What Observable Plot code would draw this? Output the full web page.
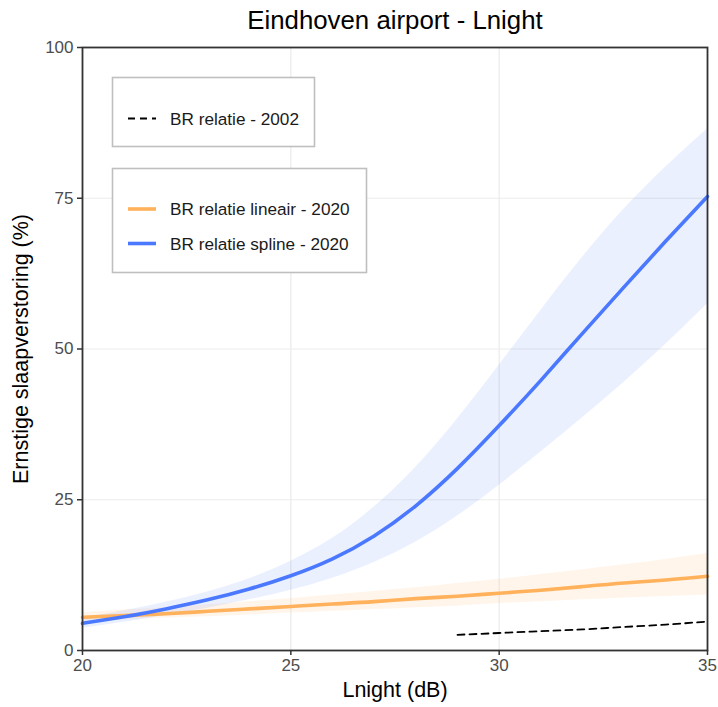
<!DOCTYPE html>
<html><head><meta charset="utf-8">
<script src="https://cdn.jsdelivr.net/npm/d3@7"></script>
<script src="https://cdn.jsdelivr.net/npm/@observablehq/plot@0.6"></script>
<style>
body{margin:0;background:#fff}
#chart{position:relative;width:718px;height:707px}
</style>
</head><body><div id="chart"></div>
<script>
// ---- data ----
const lnight      = [20, 21, 22, 23, 24, 25, 26, 27, 28, 29, 30, 31, 32, 33, 34, 35];
const splineFit   = [4.5, 5.6, 6.9, 8.4, 10.2, 12.4, 15.2, 19.0, 24.0, 30.2, 37.3, 44.8, 52.6, 60.3, 67.9, 75.3];
const splineLow   = [3.7, 4.7, 5.8, 7.0, 8.4, 10.0, 12.0, 14.6, 18.0, 22.3, 27.4, 32.9, 38.6, 44.5, 50.8, 57.5];
const splineHigh  = [5.4, 6.6, 8.0, 9.7, 11.9, 14.8, 18.6, 23.8, 30.4, 38.4, 47.3, 56.4, 65.2, 73.2, 80.2, 86.5];
const linFit      = [5.5, 5.8, 6.1, 6.5, 6.9, 7.3, 7.7, 8.1, 8.6, 9.0, 9.5, 10.0, 10.6, 11.2, 11.7, 12.3];
const linLow      = [4.8, 5.1, 5.4, 5.6, 5.9, 6.2, 6.5, 6.8, 7.1, 7.4, 7.8, 8.1, 8.4, 8.7, 8.95, 9.2];
const linHigh     = [6.3, 6.7, 7.1, 7.6, 8.1, 8.6, 9.2, 9.8, 10.4, 11.1, 11.8, 12.6, 13.4, 14.2, 15.1, 16.1];
const lnight2002  = [29, 30, 31, 32, 33, 34, 35];
const fit2002     = [2.6, 2.9, 3.2, 3.5, 3.9, 4.3, 4.8];
const xTicks = [20, 25, 30, 35];
const yTicks = [0, 25, 50, 75, 100];
const titleText = "Eindhoven airport - Lnight";
const xLabel = "Lnight (dB)";
const yLabel = "Ernstige slaapverstoring (%)";
const legend1 = ["BR relatie - 2002"];
const legend2 = ["BR relatie lineair - 2020", "BR relatie spline - 2020"];
const colOrange = "#ffb15c", colBlue = "#4a78ff";
const FONT = "Liberation Sans, Arial, Helvetica, sans-serif";

const spline = lnight.map((x, i) => ({x, y: splineFit[i], lo: splineLow[i], hi: splineHigh[i]}));
const lin = lnight.map((x, i) => ({x, y: linFit[i], lo: linLow[i], hi: linHigh[i]}));
const old = lnight2002.map((x, i) => ({x, y: fit2002[i]}));

const plot = Plot.plot({
  width: 718, height: 707,
  marginLeft: 82, marginRight: 11, marginTop: 47, marginBottom: 57,
  x: {domain: [20, 35], ticks: xTicks},
  y: {domain: [0, 100], ticks: yTicks},
  style: {fontFamily: FONT, background: "#fff"},
  marks: [
    Plot.gridX(xTicks, {stroke: "#ebebeb", strokeOpacity: 1, strokeWidth: 1.2}),
    Plot.gridY(yTicks, {stroke: "#ebebeb", strokeOpacity: 1, strokeWidth: 1.2}),
    Plot.areaY(lin, {x: "x", y1: "lo", y2: "hi", fill: colOrange, fillOpacity: 0.13, curve: "natural"}),
    Plot.areaY(spline, {x: "x", y1: "lo", y2: "hi", fill: colBlue, fillOpacity: 0.11, curve: "natural"}),
    Plot.line(old, {x: "x", y: "y", stroke: "#000", strokeWidth: 1.8, strokeDasharray: "7,5", curve: "natural"}),
    Plot.line(lin, {x: "x", y: "y", stroke: colOrange, strokeWidth: 3.6, curve: "natural"}),
    Plot.line(spline, {x: "x", y: "y", stroke: colBlue, strokeWidth: 3.6, curve: "natural"}),
    Plot.frame({stroke: "#333", strokeWidth: 1.8}),
    Plot.axisX(xTicks, {tickSize: 5, stroke: "#333", strokeWidth: 1.5, fill: "#4d4d4d", fontSize: 17, tickPadding: 3, label: null}),
    Plot.axisY(yTicks, {tickSize: 5, stroke: "#333", strokeWidth: 1.5, fill: "#4d4d4d", fontSize: 17, tickPadding: 4, label: null}),
    Plot.text([titleText], {frameAnchor: "top", lineAnchor: "middle", dy: -27, fontSize: 25.8, fill: "#000"}),
    Plot.text([xLabel], {frameAnchor: "bottom", lineAnchor: "middle", dy: 40, fontSize: 21.5, fill: "#000"}),
    Plot.text([yLabel], {frameAnchor: "left", dx: -61, rotate: -90, textAnchor: "middle", fontSize: 21.5, fill: "#000"})
  ]
});
document.getElementById("chart").appendChild(plot);

// ---- legends (drawn into the SVG) ----
const svg = d3.select(plot);
function box(x, y, w, h) {
  svg.append("rect").attr("x", x).attr("y", y).attr("width", w).attr("height", h)
    .attr("fill", "#fff").attr("stroke", "#bfbfbf").attr("stroke-width", 1.6);
}
function entry(y, text, color, dash, width) {
  svg.append("line").attr("x1", 128).attr("x2", 156).attr("y1", y).attr("y2", y)
    .attr("stroke", color).attr("stroke-width", width).attr("stroke-dasharray", dash || null);
  svg.append("text").attr("x", 170).attr("y", y).attr("dy", "0.35em")
    .attr("text-anchor", "start").attr("font-family", FONT)
    .attr("font-size", 17.2).attr("fill", "#1a1a1a").text(text);
}
box(112.5, 77.5, 202, 69);
entry(118.5, legend1[0], "#000", "7,5", 1.8);
box(112.5, 168.5, 254, 104);
entry(209, legend2[0], colOrange, null, 3.6);
entry(243.5, legend2[1], colBlue, null, 3.6);
</script>
</body></html>
